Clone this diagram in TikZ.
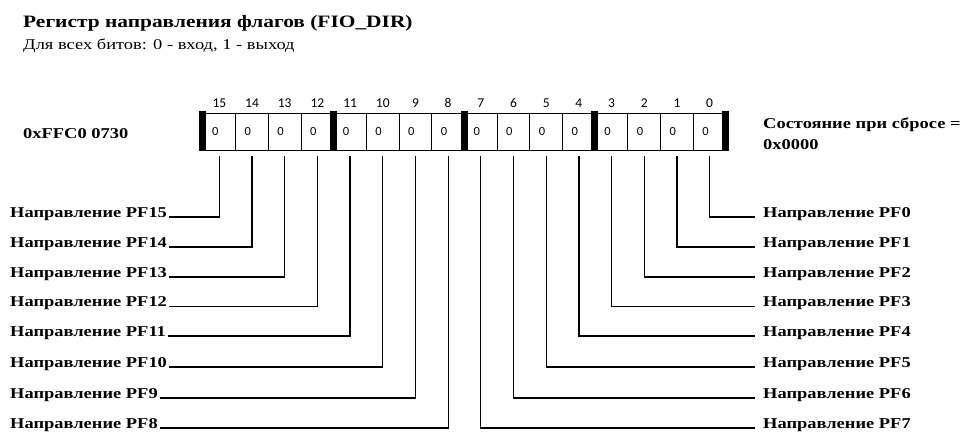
\documentclass[tikz,border=0pt]{standalone}
\usepackage{fontspec}
\setmainfont{Liberation Serif}[FakeStretch=1.23]
\newfontfamily\numfont{Carlito}
\begin{document}
\begin{tikzpicture}[x=1pt,y=-1pt,
  lbl/.style={font=\fontsize{15}{21}\selectfont\bfseries, inner xsep=2pt, inner ysep=0pt},
  cell/.style={draw, line width=1pt, minimum height=37pt, text width=14.69pt, inner xsep=9pt, inner ysep=0pt, align=left, font=\numfont\fontsize{12.5}{14}\selectfont},
  bitnum/.style={font=\numfont\fontsize{13.5}{15}\selectfont, inner sep=0pt},
  leader/.style={line width=1.2pt}]
\useasboundingbox (0,0) rectangle (964,436);
\node[anchor=base west, inner sep=0pt, font=\fontsize{17.4}{20}\selectfont\bfseries] (title) at (23,28) {Регистр направления флагов (FIO\_DIR)};
\node[anchor=base west, inner sep=0pt, font=\fontsize{15}{17}\selectfont] (sub) at (23,50) {Для всех битов: 0 - вход, 1 - выход};
\node[lbl, anchor=base west] (addr) at (21,138) {0xFFC0 0730};
\foreach \i in {0,...,15} {
  \pgfmathsetmacro\xl{202.5+(15-\i)*32.6875}
  \node[cell, anchor=north west] (c\i) at (\xl,112.5) {0};
  \node[bitnum] (n\i) at ([yshift=9.5pt]c\i.north) {\i};
}
\foreach \k in {0,...,4} {
  \fill ({202.5+\k*130.75-3.5},111) rectangle ++(7,40);
}
\node[lbl, anchor=base west, align=left] (reset) at (761,149.5) {Состояние при сбросе =\\0x0000};
\foreach \j/\y in {0/217,1/247,2/277,3/306.5,4/336,5/367,6/398,7/428} {
  \pgfmathtruncatemacro\bb{15-\j}
  \node[lbl, anchor=base west] (L\bb) at (8,\y) {Направление PF\bb};
  \draw[leader] (L\bb.base east) -| ([yshift=-5.5pt]c\bb.south);
  \node[lbl, anchor=base west] (R\j) at (761,\y) {Направление PF\j};
  \draw[leader] ([xshift=-6pt]R\j.base west) -| ([yshift=-5.5pt]c\j.south);
}
\end{tikzpicture}
\end{document}
